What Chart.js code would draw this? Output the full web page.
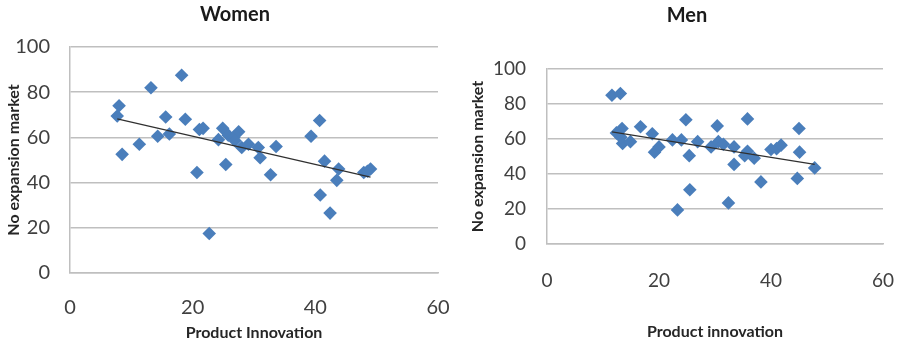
<!DOCTYPE html>
<html>
<head>
<meta charset="utf-8">
<script src="https://cdn.jsdelivr.net/npm/chart.js@4.4.1/dist/chart.umd.min.js"></script>
<style>
  html, body { margin: 0; padding: 0; background: #ffffff; }
  body { width: 898px; height: 345px; position: relative; overflow: hidden; }
  .panel { position: absolute; top: 0; height: 345px; }
  #panelWomen { left: 0; width: 450px; }
  #panelMen { left: 450px; width: 448px; }
</style>
</head>
<body>
<div class="panel" id="panelWomen"><canvas id="women" width="450" height="345"></canvas></div>
<div class="panel" id="panelMen"><canvas id="men" width="448" height="345"></canvas></div>
<script>
// Women: product innovation score vs. "no expansion market" score
const womenInnovation = [8, 7.7, 8.5, 11.3, 13.2, 14.3, 15.6, 16.2, 18.2, 18.8, 20.7, 21.1, 21.7, 22.7, 24.2, 24.9, 25.4, 25.8, 26.7, 27.5, 26.9, 28, 29.1, 30.7, 31, 32.7, 33.6, 39.3, 40.7, 40.8, 41.5, 42.4, 43.8, 43.5, 47.9, 48.5, 49];
const womenNoExpansion = [74, 69.5, 52.5, 57, 82, 60.5, 69, 61.5, 87.5, 68, 44.5, 63.5, 64, 17.5, 59, 64, 48, 61, 60, 62.5, 58.5, 55.5, 57, 55.5, 51, 43.5, 56, 60.5, 67.5, 34.5, 49.5, 26.5, 46, 41, 44.5, 45, 46];

// Men: product innovation score vs. "no expansion market" score
const menInnovation = [11.6, 13.1, 12.4, 13.4, 13.5, 14.9, 13.2, 16.7, 18.8, 19.2, 20, 22.4, 23.3, 24, 24.8, 25.4, 25.5, 26.9, 29.3, 30.4, 30.6, 31.5, 32.4, 33.4, 33.4, 35.8, 35.8, 35.3, 37, 38.2, 40, 41, 41.8, 44.7, 45, 45.1, 47.8];
const menNoExpansion = [85, 86, 63.5, 66, 57.5, 58.5, 61, 67, 63, 52.5, 55.5, 59.5, 19.5, 59.5, 71, 50.5, 31, 58.5, 55.5, 67.5, 58.5, 57, 23.5, 55.5, 45.5, 71.5, 53, 50.5, 49, 35.5, 54, 54.5, 56.5, 37.5, 66, 52.5, 43.5];

// Axis tick values
const innovationTicks = [0, 20, 40, 60];
const noExpansionTicks = [0, 20, 40, 60, 80, 100];

const FONT = 'Lato, "Open Sans", sans-serif';

function points(xs, ys) {
  return xs.map((x, i) => ({ x: x, y: ys[i] }));
}

// Least-squares linear trend line across the observed x range
function linearTrend(xs, ys) {
  const n = xs.length;
  const mx = xs.reduce((a, b) => a + b, 0) / n;
  const my = ys.reduce((a, b) => a + b, 0) / n;
  let sxy = 0, sxx = 0;
  for (let i = 0; i < n; i++) {
    sxy += (xs[i] - mx) * (ys[i] - my);
    sxx += (xs[i] - mx) * (xs[i] - mx);
  }
  const slope = sxy / sxx;
  const icpt = my - slope * mx;
  const lo = Math.min(...xs), hi = Math.max(...xs);
  return [{ x: lo, y: icpt + slope * lo }, { x: hi, y: icpt + slope * hi }];
}

// Draws the panel heading at a fixed position above the plot
const panelTitle = {
  id: 'panelTitle',
  afterDraw(chart, args, o) {
    const ctx = chart.ctx;
    ctx.save();
    ctx.font = 'bold ' + o.size + 'px ' + FONT;
    ctx.fillStyle = '#1a1a1a';
    ctx.textAlign = 'center';
    ctx.textBaseline = 'middle';
    ctx.fillText(o.text, o.x, o.y);
    ctx.restore();
  }
};

function makePanel(canvasId, xs, ys, g) {
  const gridColor = '#bfbfbf';
  return new Chart(document.getElementById(canvasId), {
    type: 'scatter',
    data: {
      datasets: [
        {
          type: 'line',
          data: linearTrend(xs, ys),
          borderColor: '#303030',
          borderWidth: 1.2,
          pointRadius: 0,
          fill: false,
          order: 0
        },
        {
          data: points(xs, ys),
          pointStyle: 'rectRot',
          pointRadius: 6.8,
          pointHoverRadius: 6.8,
          backgroundColor: '#4a7ebb',
          borderColor: '#4a7ebb',
          borderWidth: 0,
          order: 1
        }
      ]
    },
    options: {
      responsive: false,
      animation: false,
      events: [],
      layout: { padding: { top: g.padTop, right: g.padRight, left: 0, bottom: 0 } },
      plugins: {
        legend: { display: false },
        tooltip: { enabled: false },
        panelTitle: { text: g.title, x: g.titleX, y: g.titleY, size: g.titleSize }
      },
      scales: {
        x: {
          type: 'linear',
          min: 0, max: 60,
          afterBuildTicks: s => { s.ticks = innovationTicks.map(v => ({ value: v })); },
          afterFit: s => { s.height = g.xAxisHeight; s.paddingLeft = 0; s.paddingRight = 0; },
          grid: { display: false, drawTicks: false },
          border: { display: true, color: gridColor, width: 1.5 },
          ticks: { padding: g.xTickPad, color: '#404040', font: { family: FONT, size: g.tickSize } },
          title: {
            display: true, text: g.xTitle, color: '#262626',
            font: { family: FONT, size: g.axisTitleSize, weight: 'bold' },
            padding: { top: 0, bottom: g.xTitlePad }
          }
        },
        y: {
          type: 'linear',
          min: 0, max: 100,
          afterBuildTicks: s => { s.ticks = noExpansionTicks.map(v => ({ value: v })); },
          afterFit: s => { s.width = g.yAxisWidth; s.paddingTop = 0; s.paddingBottom = 0; },
          grid: { color: gridColor, lineWidth: 1.5, drawTicks: false },
          border: { display: true, color: gridColor, width: 1.5 },
          ticks: { padding: g.yTickPad, color: '#404040', font: { family: FONT, size: g.tickSize } },
          title: {
            display: true, text: 'No expansion market', color: '#262626',
            font: { family: FONT, size: g.axisTitleSize, weight: 'bold' },
            padding: { top: g.yTitlePad, bottom: 0 }
          }
        }
      }
    },
    plugins: [panelTitle]
  });
}

makePanel('women', womenInnovation, womenNoExpansion, {
  title: 'Women', titleX: 235, titleY: 15, titleSize: 20,
  padTop: 47, padRight: 12,
  yAxisWidth: 70, xAxisHeight: 72,
  tickSize: 20, yTickPad: 20, xTickPad: 23,
  axisTitleSize: 16, yTitlePad: 4, xTitlePad: 3,
  xTitle: 'Product Innovation'
});

makePanel('men', menInnovation, menNoExpansion, {
  title: 'Men', titleX: 237, titleY: 16, titleSize: 20,
  padTop: 69, padRight: 15,
  yAxisWidth: 97, xAxisHeight: 101,
  tickSize: 19, yTickPad: 21, xTickPad: 25,
  axisTitleSize: 16, yTitlePad: 18, xTitlePad: 4,
  xTitle: 'Product innovation'
});
</script>
</body>
</html>
